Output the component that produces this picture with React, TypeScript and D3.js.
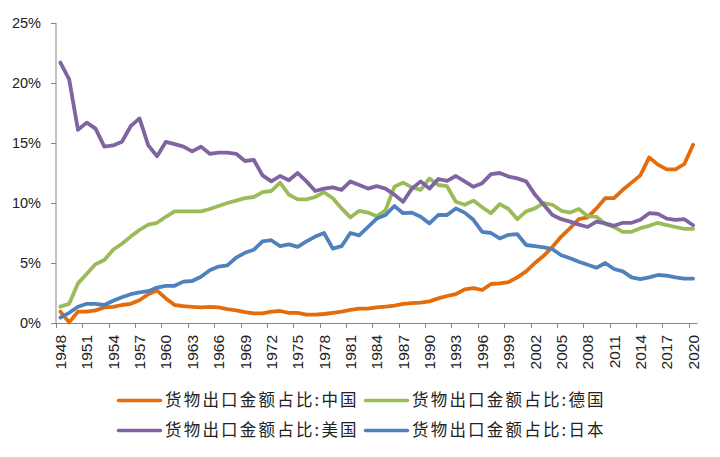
import React, { useEffect, useRef } from "react";
import * as d3 from "d3";

const years: number[] = d3.range(1948, 2021);

const china: number[] = [
  0.95, 0.05, 0.95, 0.95, 1.05, 1.3, 1.35, 1.5, 1.6, 1.9, 2.4, 2.7,
  2.05, 1.5, 1.4, 1.35, 1.3, 1.35, 1.3, 1.15, 1.05, 0.9,
  0.8, 0.8, 0.95, 1.0, 0.85, 0.85, 0.7, 0.7, 0.75, 0.85,
  0.95, 1.1, 1.2, 1.2, 1.3, 1.36, 1.45, 1.6, 1.65, 1.7,
  1.8, 2.05, 2.25, 2.4, 2.8, 2.9, 2.75, 3.25, 3.3, 3.4,
  3.8, 4.3, 5.0, 5.6, 6.35, 7.2, 7.9, 8.65, 8.8, 9.55,
  10.4, 10.4, 11.1, 11.7, 12.3, 13.8, 13.2, 12.8, 12.8, 13.25, 14.85,
];

const germany: number[] = [
  1.36, 1.6, 3.3, 4.1, 4.9, 5.25, 6.1, 6.6, 7.2, 7.75, 8.2, 8.35,
  8.85, 9.3, 9.3, 9.3, 9.3, 9.5, 9.75, 10.0, 10.2, 10.4,
  10.5, 10.9, 11.0, 11.7, 10.7, 10.3, 10.3, 10.5, 10.9, 10.4,
  9.55, 8.8, 9.35, 9.2, 8.9, 9.4, 11.35, 11.7, 11.3, 11.1,
  12.05, 11.5, 11.4, 10.1, 9.85, 10.2, 9.65, 9.15, 9.9, 9.5,
  8.65, 9.3, 9.55, 10.0, 9.85, 9.35, 9.2, 9.5, 8.9, 8.85,
  8.25, 8.0, 7.6, 7.6, 7.9, 8.1, 8.35, 8.15, 8.0, 7.85, 7.85,
];

const usa: number[] = [
  21.7, 20.3, 16.1, 16.7, 16.2, 14.7, 14.8, 15.1, 16.4, 17.05, 14.8, 13.9,
  15.1, 14.9, 14.7, 14.3, 14.7, 14.1, 14.2, 14.2, 14.1, 13.5,
  13.6, 12.3, 11.8, 12.25, 11.9, 12.5, 11.8, 11.0, 11.2, 11.3,
  11.1, 11.8, 11.5, 11.2, 11.4, 11.2, 10.7, 10.1, 11.2, 11.8,
  11.2, 12.0, 11.85, 12.25, 11.8, 11.35, 11.65, 12.4, 12.5, 12.2,
  12.05, 11.8, 10.7, 9.85, 9.0, 8.65, 8.45, 8.2, 8.0, 8.45,
  8.3, 8.1, 8.35, 8.35, 8.6, 9.15, 9.1, 8.7, 8.6, 8.65, 8.15,
];

const japan: number[] = [
  0.45, 0.85, 1.35, 1.6, 1.6, 1.5, 1.85, 2.15, 2.4, 2.55, 2.65, 2.95,
  3.1, 3.1, 3.45, 3.5, 3.85, 4.4, 4.7, 4.8, 5.45, 5.85,
  6.1, 6.8, 6.9, 6.4, 6.55, 6.35, 6.8, 7.2, 7.5, 6.2,
  6.4, 7.5, 7.3, 8.0, 8.7, 9.0, 9.75, 9.15, 9.2, 8.85,
  8.3, 9.0, 9.0, 9.55, 9.2, 8.6, 7.6, 7.5, 7.05, 7.35,
  7.4, 6.5, 6.4, 6.3, 6.15, 5.65, 5.4, 5.1, 4.85, 4.6,
  5.0, 4.5, 4.3, 3.8, 3.65, 3.8, 4.0, 3.95, 3.8, 3.7, 3.7,
];

const yTicks: number[] = [0, 5, 10, 15, 20, 25];

const seriesNames: string[] = [
  "货物出口金额占比:中国",
  "货物出口金额占比:德国",
  "货物出口金额占比:美国",
  "货物出口金额占比:日本",
];
const seriesColors: string[] = ["#E46C0A", "#9BBB59", "#8064A2", "#4F81BD"];
const seriesData: number[][] = [china, germany, usa, japan];

export default function App() {
  const ref = useRef<SVGSVGElement>(null);

  useEffect(() => {
    const svg = d3.select(ref.current);
    svg.selectAll("*").remove();

    const left = 56;
    const right = 697.5;
    const top = 23;
    const bottom = 323;

    const x = d3
      .scaleBand<number>()
      .domain(years)
      .range([left, right])
      .padding(0);
    const bw = x.bandwidth();
    const cx = (yr: number) => (x(yr) as number) + bw / 2;
    const y = d3.scaleLinear().domain([0, 25]).range([bottom, top]);

    const axisColor = "#868686";
    const textColor = "#222";

    // y axis
    const gy = svg.append("g");
    gy.append("line")
      .attr("x1", left)
      .attr("x2", left)
      .attr("y1", top)
      .attr("y2", bottom)
      .attr("stroke", axisColor)
      .attr("stroke-width", 1);
    yTicks.forEach((t) => {
      gy.append("line")
        .attr("x1", left - 5)
        .attr("x2", left)
        .attr("y1", Math.round(y(t)) + 0.5)
        .attr("y2", Math.round(y(t)) + 0.5)
        .attr("stroke", axisColor);
      gy.append("text")
        .attr("x", 41)
        .attr("y", y(t))
        .attr("dy", "0.36em")
        .attr("text-anchor", "end")
        .attr("font-family", "Liberation Sans, Arial, sans-serif")
        .attr("font-size", 14.5)
        .attr("fill", textColor)
        .text(`${t}%`);
    });

    // x axis
    const gx = svg.append("g");
    gx.append("line")
      .attr("x1", left)
      .attr("x2", right)
      .attr("y1", bottom + 0.5)
      .attr("y2", bottom + 0.5)
      .attr("stroke", axisColor);
    years
      .filter((yr) => (yr - 1948) % 3 === 0)
      .forEach((yr) => {
        const xt = Math.round(x(yr) as number) + 0.5;
        gx.append("line")
          .attr("x1", xt)
          .attr("x2", xt)
          .attr("y1", bottom)
          .attr("y2", bottom + 5)
          .attr("stroke", axisColor);
        gx.append("text")
          .attr("transform", `translate(${cx(yr)},335) rotate(-90)`)
          .attr("dy", "0.36em")
          .attr("text-anchor", "end")
          .attr("font-family", "Liberation Sans, Arial, sans-serif")
          .attr("font-size", 15.5)
          .attr("fill", textColor)
          .text(String(yr));
      });

    // lines
    const line = d3
      .line<number>()
      .x((_, i) => cx(years[i]))
      .y((d) => y(d));

    seriesData.forEach((data, k) => {
      svg
        .append("path")
        .datum(data)
        .attr("d", line)
        .attr("fill", "none")
        .attr("stroke", seriesColors[k])
        .attr("stroke-width", 3.8)
        .attr("stroke-linejoin", "round")
        .attr("stroke-linecap", "round");
    });

    // legend
    const legendPos = [
      { lx: 118.5, tx: 165, ly: 400.5 },
      { lx: 365.5, tx: 412, ly: 400.5 },
      { lx: 118.5, tx: 165, ly: 430.5 },
      { lx: 365.5, tx: 412, ly: 430.5 },
    ];
    seriesNames.forEach((name, k) => {
      const p = legendPos[k];
      svg
        .append("line")
        .attr("x1", p.lx)
        .attr("x2", p.lx + 42)
        .attr("y1", p.ly)
        .attr("y2", p.ly)
        .attr("stroke", seriesColors[k])
        .attr("stroke-width", 3.5)
        .attr("stroke-linecap", "round");
      svg
        .append("text")
        .attr("x", p.tx)
        .attr("y", p.ly)
        .attr("dy", "0.36em")
        .attr("font-family", "Noto Sans CJK SC, sans-serif")
        .attr("font-size", 16.5)
        .attr("letter-spacing", 2.2)
        .attr("fill", textColor)
        .text(name);
    });
  }, []);

  return (
    <svg
      ref={ref}
      width={720}
      height={457}
      style={{ position: "absolute", left: 0, top: 0, background: "#fff" }}
    />
  );
}
